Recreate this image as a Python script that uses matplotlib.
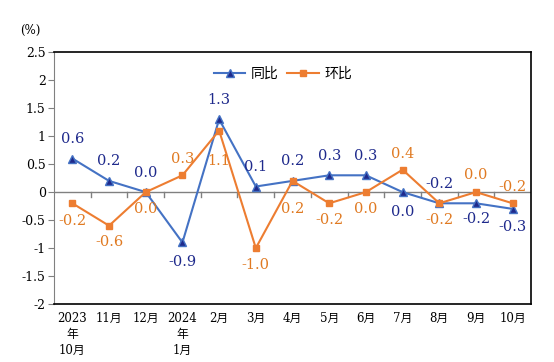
import numpy as np
import matplotlib
matplotlib.use("Agg")
import matplotlib.pyplot as plt

plt.rcParams['font.family'] = ['DejaVu Serif', 'Noto Sans CJK SC']

months = ["2023\n年\n10月", "11月", "12月", "2024\n年\n1月", "2月", "3月", "4月",
          "5月", "6月", "7月", "8月", "9月", "10月"]
yoy = [0.6, 0.2, 0.0, -0.9, 1.3, 0.1, 0.2, 0.3, 0.3, 0.0, -0.2, -0.2, -0.3]
mom = [-0.2, -0.6, 0.0, 0.3, 1.1, -1.0, 0.2, -0.2, 0.0, 0.4, -0.2, 0.0, -0.2]
# label offset in points (positive = above the point)
yoy_off = [14, 14, 14, -14, 14, 14, 14, 14, 14, -14, 14, -11, -13]
mom_off = [-13, -12, -12, 12, -22, -12, -20, -12, -12, 11, -12, 12, 12]

blue = "#4472C4"
navy = "#1F2A8C"
orange = "#ED7D31"
dorange = "#E07A22"

fig = plt.figure(figsize=(5.54, 3.62), dpi=100)
ax = fig.add_axes([0.0975, 0.16, 0.861, 0.696])
x = np.arange(len(months))

ax.plot(x, yoy, color=blue, lw=1.5, marker="^", ms=6, mfc=navy, mec=blue,
        mew=1, label="同比", zorder=3)
ax.plot(x, mom, color=orange, lw=1.5, marker="s", ms=5, mfc=orange, mec=orange,
        label="环比", zorder=3)

for i in range(len(x)):
    ax.annotate(f"{yoy[i]:.1f}", (x[i], yoy[i]), xytext=(0, yoy_off[i]),
                textcoords="offset points", ha="center", va="center",
                color=navy, fontsize=10.5)
    ax.annotate(f"{mom[i]:.1f}", (x[i], mom[i]), xytext=(0, mom_off[i]),
                textcoords="offset points", ha="center", va="center",
                color=dorange, fontsize=10.5)

ax.set_xlim(-0.5, len(x) - 0.5)
ax.set_ylim(-2, 2.5)
ax.set_yticks(np.arange(-2, 2.51, 0.5))
ax.set_yticklabels([f"{v:g}" for v in np.arange(-2, 2.51, 0.5)])
ax.axhline(0, color="#808080", lw=1, zorder=1)
# tick marks on the zero line between categories
for b in np.arange(0.5, len(x) - 0.5, 1):
    ax.plot([b, b], [0, -0.08], color="#808080", lw=1, zorder=1)

ax.set_xticks(x)
ax.set_xticklabels(months, fontsize=8.5, linespacing=1.3, va="top")
ax.tick_params(axis="x", length=0, pad=6)
ax.tick_params(axis="y", labelsize=9, length=4, color="#808080", pad=2)

for s in ["top", "right", "bottom"]:
    ax.spines[s].set_color("black")
    ax.spines[s].set_linewidth(1.2)
ax.spines["left"].set_color("#808080")

fig.text(0.036, 0.905, "(%)", fontsize=8.5)
ax.legend(loc="upper center", bbox_to_anchor=(0.48, 0.99), ncol=2, frameon=False,
          fontsize=10, handlelength=2.3, columnspacing=0.6, handletextpad=0.4)

fig.savefig("out.png", dpi=100)
